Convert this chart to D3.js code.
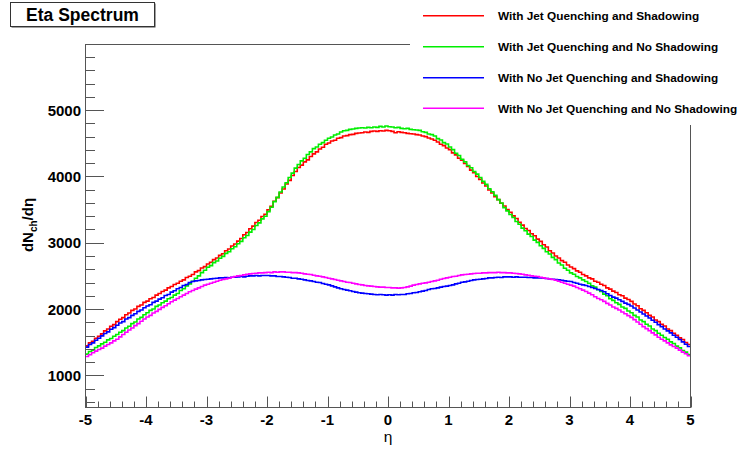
<!DOCTYPE html>
<meta charset="utf-8">
<body style="margin:0; background:#fff;">
<script src="https://d3js.org/d3.v7.min.js"></script>
<svg id="chart" width="740" height="449"></svg>
<script>
// histogram: 200 bins of 0.05 in eta from -5 to 5
var etaMin = -5, etaMax = 5, nBins = 200;

var seriesNames = [
  "With Jet Quenching and Shadowing",
  "With Jet Quenching and No Shadowing",
  "With No Jet Quenching and Shadowing",
  "With No Jet Quenching and No Shadowing"
];
var seriesColors = ["#ff0000", "#00ee00", "#0000ff", "#ff00ff"];

var jqShadow = [
  1445,1490,1515,1560,1590, 1625,1670,1700,1740,1765, 1810,1845,1870,1915,1940, 1980,2000,2040,2060,2100,
  2120,2155,2175,2210,2235, 2265,2285,2320,2340,2370, 2390,2420,2440,2475,2495, 2520,2560,2580,2620,2640,
  2680,2705,2745,2770,2810, 2835,2880,2905,2950,2980, 3025,3065,3120,3155,3210, 3250,3305,3340,3395,3430,
  3495,3550,3625,3680,3750, 3810,3885,3940,4015,4075, 4135,4170,4220,4250,4300, 4340,4370,4415,4440,4485,
  4505,4535,4545,4575,4585, 4610,4615,4630,4635,4650, 4655,4660,4670,4665,4680, 4685,4680,4690,4685,4695,
  4690,4680,4660,4675,4665, 4660,4650,4645,4640,4630, 4625,4610,4600,4580,4565, 4545,4520,4485,4465,4430,
  4405,4355,4325,4275,4245, 4195,4150,4095,4055,4000, 3955,3900,3855,3795,3750, 3695,3650,3595,3555,3500,
  3460,3405,3365,3310,3265, 3215,3185,3135,3105,3055, 3020,2970,2935,2880,2845, 2800,2770,2730,2705,2665,
  2635,2610,2575,2555,2520, 2500,2470,2455,2420,2405, 2375,2355,2320,2300,2270, 2250,2215,2200,2165,2145,
  2115,2075,2050,2005,1980, 1945,1905,1880,1835,1810, 1770,1745,1700,1675,1635, 1605,1565,1540,1495,1465
];
var jqNoShadow = [
  1320,1360,1380,1420,1445, 1475,1500,1535,1555,1590, 1615,1650,1675,1715,1740, 1780,1805,1850,1875,1915,
  1945,1980,2000,2040,2060, 2095,2120,2155,2175,2210, 2235,2280,2305,2350,2380, 2420,2465,2500,2550,2585,
  2630,2655,2700,2725,2765, 2795,2840,2865,2910,2940, 2985,3020,3075,3110,3160, 3200,3260,3300,3360,3400,
  3470,3535,3620,3685,3765, 3840,3905,3985,4050,4125, 4180,4235,4275,4330,4370, 4420,4445,4485,4510,4545,
  4575,4595,4625,4640,4670, 4690,4695,4710,4715,4725, 4730,4735,4730,4740,4735, 4745,4740,4755,4745,4760,
  4750,4745,4735,4740,4725, 4720,4725,4710,4705,4700, 4695,4675,4665,4640,4630, 4610,4570,4550,4510,4490,
  4445,4405,4350,4315,4260, 4220,4165,4130,4075,4035, 3985,3925,3880,3815,3770, 3715,3650,3600,3530,3480,
  3425,3380,3320,3280,3220, 3180,3130,3095,3040,3005, 2955,2915,2865,2830,2780, 2745,2695,2665,2615,2585,
  2545,2525,2490,2470,2440, 2415,2390,2350,2330,2290, 2265,2225,2200,2155,2130, 2095,2070,2030,2010,1970,
  1945,1905,1880,1835,1810, 1770,1745,1700,1675,1635, 1605,1570,1545,1505,1480, 1440,1415,1375,1350,1315
];
var noJqShadow = [
  1425,1465,1490,1530,1560, 1595,1630,1655,1695,1720, 1755,1790,1810,1850,1870, 1905,1930,1965,1985,2020,
  2045,2065,2100,2120,2150, 2170,2205,2220,2255,2275, 2305,2325,2355,2370,2400, 2415,2425,2430,2440,2445,
  2450,2455,2460,2465,2470, 2470,2475,2470,2480,2480, 2485,2490,2485,2495,2500, 2500,2505,2500,2505,2505,
  2505,2500,2500,2490,2490, 2485,2480,2475,2465,2465, 2455,2450,2440,2430,2425, 2415,2405,2400,2385,2375,
  2365,2350,2335,2320,2305, 2295,2285,2275,2265,2255, 2245,2240,2235,2230,2225, 2220,2215,2220,2215,2210,
  2215,2210,2220,2215,2220, 2220,2230,2235,2245,2250, 2260,2270,2280,2295,2305, 2310,2320,2330,2340,2345,
  2355,2365,2380,2390,2405, 2410,2420,2430,2440,2445, 2450,2455,2460,2470,2470, 2475,2480,2475,2485,2485,
  2485,2480,2485,2480,2480, 2480,2475,2475,2470,2470, 2470,2465,2460,2455,2450, 2445,2440,2435,2425,2420,
  2415,2400,2390,2375,2365, 2355,2340,2325,2310,2295, 2280,2260,2230,2205,2180, 2165,2140,2115,2090,2070,
  2045,2015,1985,1955,1925, 1895,1865,1830,1800,1765, 1735,1700,1670,1640,1605, 1575,1540,1505,1470,1435
];
var noJqNoShadow = [
  1285,1310,1340,1365,1390, 1410,1440,1465,1490,1520, 1545,1580,1615,1650,1685, 1715,1750,1780,1815,1850,
  1880,1905,1940,1965,1995, 2025,2050,2080,2110,2135, 2160,2185,2210,2235,2260, 2280,2300,2320,2340,2360,
  2375,2390,2405,2420,2435, 2445,2455,2465,2480,2490, 2500,2505,2515,2525,2530, 2535,2540,2545,2545,2550,
  2555,2550,2560,2555,2560, 2560,2555,2555,2550,2550, 2545,2540,2530,2525,2520, 2510,2500,2495,2485,2475,
  2465,2455,2445,2435,2425, 2415,2405,2400,2390,2380, 2370,2365,2355,2350,2345, 2340,2335,2330,2330,2325,
  2325,2320,2320,2315,2320, 2325,2335,2345,2360,2370, 2380,2390,2395,2405,2415, 2425,2435,2450,2460,2470,
  2480,2490,2495,2505,2515, 2520,2525,2530,2535,2540, 2540,2545,2545,2550,2550, 2550,2555,2550,2550,2545,
  2545,2540,2535,2530,2525, 2515,2510,2500,2495,2490, 2480,2470,2460,2455,2445, 2435,2420,2405,2390,2375,
  2360,2345,2325,2305,2285, 2265,2240,2215,2185,2160, 2140,2115,2085,2060,2030, 2010,1985,1955,1930,1900,
  1875,1840,1805,1770,1735, 1705,1675,1640,1610,1575, 1545,1520,1490,1460,1435, 1410,1380,1350,1325,1295
];
var allSeries = [jqShadow, jqNoShadow, noJqShadow, noJqNoShadow];

var xTicks = [-5, -4, -3, -2, -1, 0, 1, 2, 3, 4, 5];
var yTicks = [1000, 2000, 3000, 4000, 5000];

var svg = d3.select("#chart");
var frameColor = "#555";

var x = d3.scaleLinear().domain([etaMin, etaMax]).range([85.5, 690.5]);
var y = d3.scaleLinear().domain([515, 5990]).range([407.5, 44.5]);

// histogram steps
var binW = (etaMax - etaMin) / nBins;
var line = d3.line()
    .x(function(d) { return x(d[0]); })
    .y(function(d) { return y(d[1]); })
    .curve(d3.curveStepAfter);

allSeries.forEach(function(vals, k) {
  var pts = vals.map(function(v, i) { return [etaMin + i * binW, v]; });
  pts.push([etaMax, vals[vals.length - 1]]);
  svg.append("path")
     .attr("d", line(pts))
     .attr("fill", "none")
     .attr("stroke", seriesColors[k])
     .attr("stroke-width", 1.6);
});

// y axis ticks (major + minor)
var yMinor = d3.range(600, 5990, 200);
svg.append("g").selectAll("line").data(yMinor).enter().append("line")
   .attr("x1", 85.5).attr("x2", function(d) { return d % 1000 == 0 ? 104 : 95; })
   .attr("y1", function(d) { return Math.round(y(d)) + 0.5; })
   .attr("y2", function(d) { return Math.round(y(d)) + 0.5; })
   .attr("stroke", frameColor).attr("stroke-width", 1);

svg.append("g").selectAll("text").data(yTicks).enter().append("text")
   .attr("x", 81).attr("y", function(d) { return y(d) + 5.5; })
   .attr("text-anchor", "end")
   .style("font", "bold 15px 'Liberation Sans', Arial, sans-serif")
   .text(function(d) { return d; });

// x axis ticks
var xMinor = d3.range(0, 51).map(function(i) { return -5 + i * 0.2; });
svg.append("g").selectAll("line").data(xMinor).enter().append("line")
   .attr("x1", function(d) { return Math.round(x(d)) + 0.5; })
   .attr("x2", function(d) { return Math.round(x(d)) + 0.5; })
   .attr("y1", 407.5)
   .attr("y2", function(d, i) { return i % 5 == 0 ? 396.5 : 401.5; })
   .attr("stroke", frameColor).attr("stroke-width", 1);

svg.append("g").selectAll("text").data(xTicks).enter().append("text")
   .attr("x", function(d) { return x(d); }).attr("y", 424.5)
   .attr("text-anchor", "middle")
   .style("font", "bold 15px 'Liberation Sans', Arial, sans-serif")
   .text(function(d) { return d; });

// frame
svg.append("rect")
   .attr("x", 85.5).attr("y", 44.5).attr("width", 605).attr("height", 363)
   .attr("fill", "none").attr("stroke", frameColor).attr("stroke-width", 1);

// axis titles
svg.append("text")
   .attr("x", 388).attr("y", 442).attr("text-anchor", "middle")
   .style("font", "15.5px 'Liberation Sans', Arial, sans-serif")
   .text("η");

var yt = svg.append("text")
   .attr("transform", "translate(33,225) rotate(-90)")
   .attr("text-anchor", "middle")
   .style("font", "bold 15px 'Liberation Sans', Arial, sans-serif");
yt.append("tspan").text("dN");
yt.append("tspan").attr("dy", 4).style("font-size", "10px").text("ch");
yt.append("tspan").attr("dy", -4).text("/dη");

// legend (white box hides part of the frame)
svg.append("rect")
   .attr("x", 410).attr("y", 0).attr("width", 330).attr("height", 125)
   .attr("fill", "#fff");

var legRows = [15.7, 46.7, 77.7, 108.3];
seriesNames.forEach(function(name, k) {
  svg.append("line")
     .attr("x1", 423).attr("x2", 484)
     .attr("y1", legRows[k]).attr("y2", legRows[k])
     .attr("stroke", seriesColors[k]).attr("stroke-width", 1.6);
  svg.append("text")
     .attr("x", 498).attr("y", legRows[k] + 4.3)
     .style("font", "bold 11.8px 'Liberation Sans', Arial, sans-serif")
     .text(name);
});

// title box
svg.append("rect")
   .attr("x", 11.5).attr("y", 3.5).attr("width", 144).attr("height", 24)
   .attr("fill", "#444");
svg.append("rect")
   .attr("x", 10.5).attr("y", 2.5).attr("width", 144).attr("height", 24)
   .attr("fill", "#fff").attr("stroke", "#333").attr("stroke-width", 1);
svg.append("text")
   .attr("x", 82.5).attr("y", 20.5).attr("text-anchor", "middle")
   .style("font", "bold 17.5px 'Liberation Sans', Arial, sans-serif")
   .text("Eta Spectrum");
</script>
</body>
